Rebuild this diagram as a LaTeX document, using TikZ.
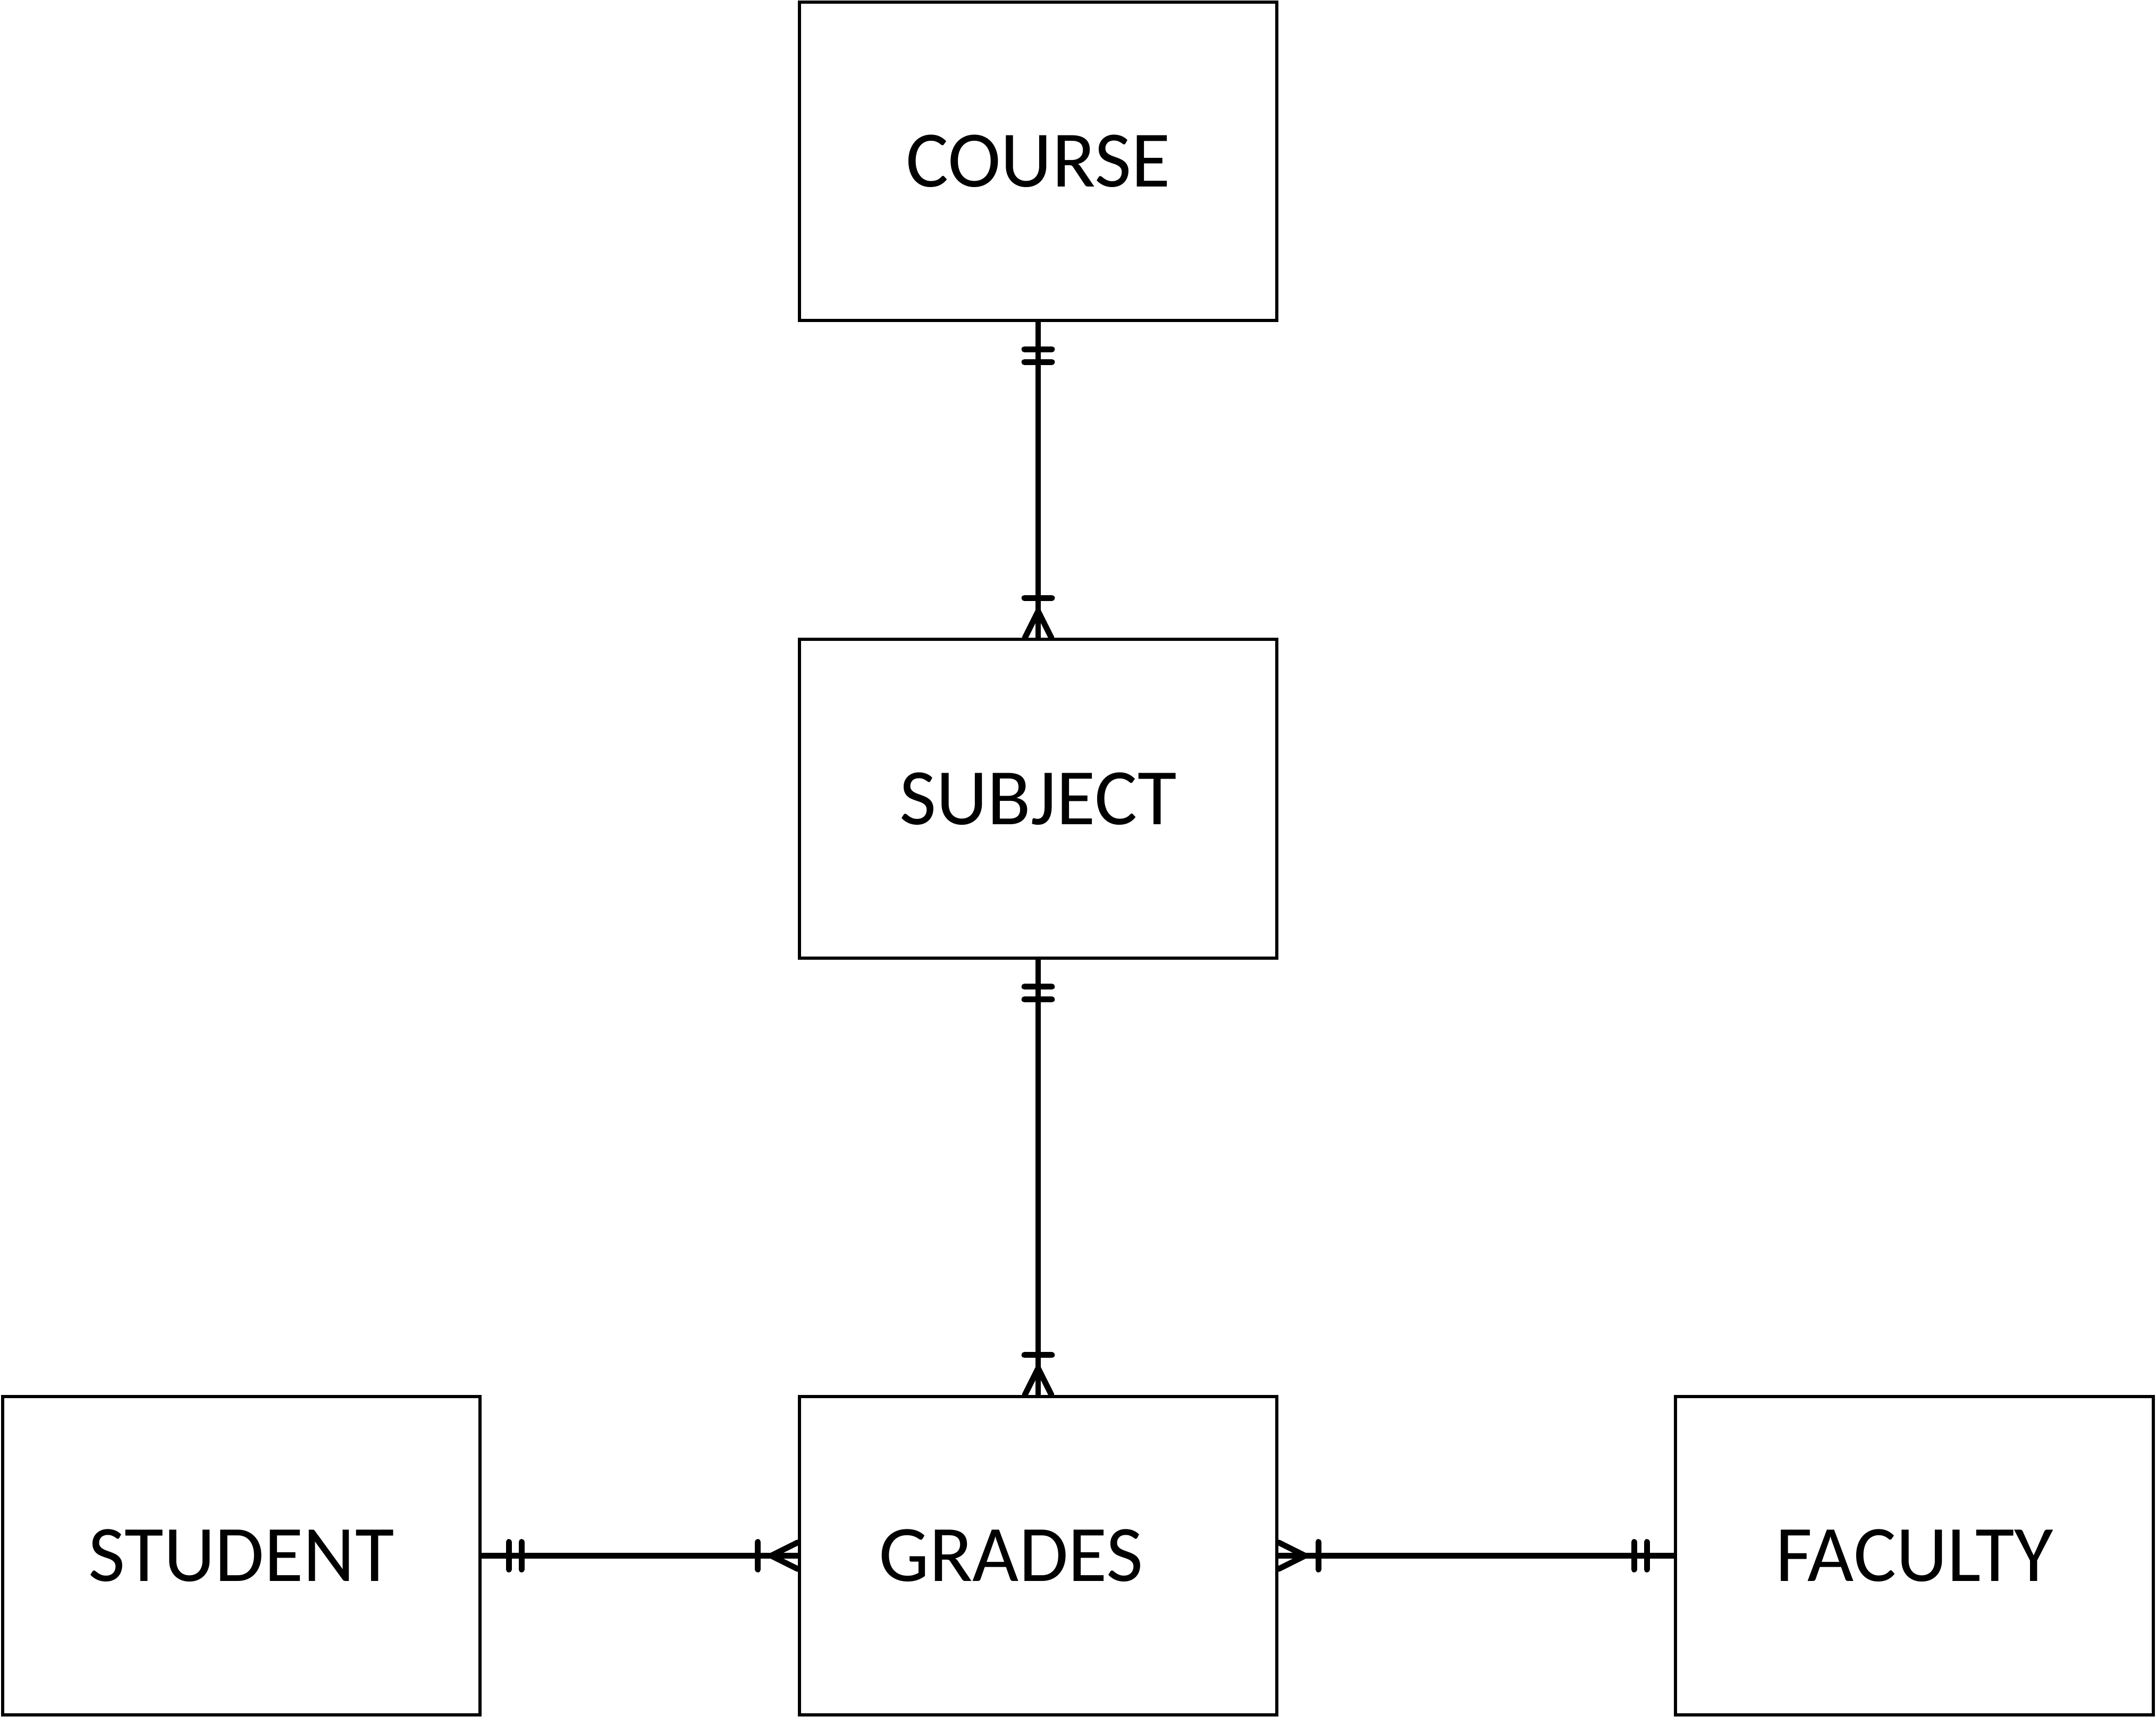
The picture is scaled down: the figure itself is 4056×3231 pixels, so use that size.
\documentclass[tikz,border=0pt]{standalone}
\usepackage{fontspec}
\setmainfont{Carlito}
\usetikzlibrary{calc}
\tikzset{
  entity/.style={draw=black, line width=1.7pt, rectangle, inner sep=0pt,
    minimum width=8.98cm, minimum height=5.99cm,
    font=\fontsize{42.8}{50}\selectfont},
  lbl/.style={inner sep=0pt, font=\fontsize{42.8}{50}\selectfont},
  conn/.style={draw=black, line width=3.1pt, line cap=round, line join=round},
  mandone/.pic={\draw[conn] (51,-26) -- (51,26) (75,-26) -- (75,26);},
  crowmany/.pic={\draw[conn] (75,-26) -- (75,26);
                 \draw[conn] (0,-25) -- (50,0) -- (0,25);},
}
\begin{document}
\begin{tikzpicture}[x={(0.01cm,0)}, y={(0,-0.01cm)}]
\useasboundingbox (0,0) rectangle (4056,3231);
\node[entity] (course)  at (1953,303.5) {COURSE};
\node[entity] (subject) at (1953,1503)  {SUBJECT};
\node[entity] (grades)  at (1953,2927.5) {};
\node[lbl] (gradestext) at (1902,2927.5) {GRADES};
\node[entity] (student) at (454,2927.5) {STUDENT};
\node[entity] (faculty) at (3601.5,2927.5) {FACULTY};
% connectors
\draw[conn] (course.south) -- (subject.north);
\draw[conn] (subject.south) -- (grades.north);
\draw[conn] (student.east) -- (grades.west);
\draw[conn] (grades.east) -- (faculty.west);
% ends
\pic[rotate=-90] at (course.south) {mandone};
\pic[rotate=90] at (subject.north) {crowmany};
\pic[rotate=-90] at (subject.south) {mandone};
\pic[rotate=90] at (grades.north) {crowmany};
\pic at (student.east) {mandone};
\pic[rotate=180] at (grades.west) {crowmany};
\pic at (grades.east) {crowmany};
\pic[rotate=180] at (faculty.west) {mandone};
\end{tikzpicture}
\end{document}
